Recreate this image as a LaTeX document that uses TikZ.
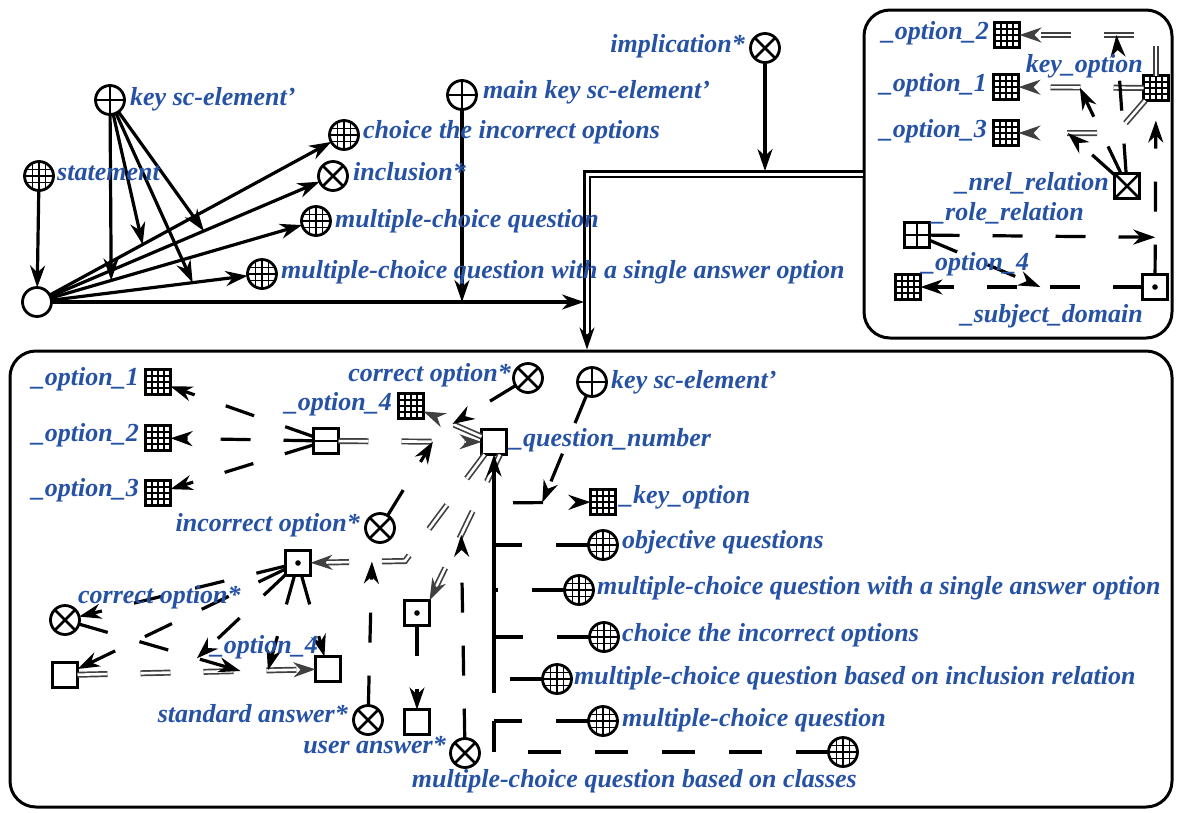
\documentclass[tikz,border=0pt]{standalone}
\usepackage{fontspec}
\setmainfont{Liberation Serif}
\usetikzlibrary{arrows.meta}
\definecolor{lblue}{RGB}{38,82,165}

\tikzset{
  base/.style={draw, line width=2.8pt, fill=white, inner sep=0pt, outer sep=0pt},
  circ/.style={base, circle, minimum size=29pt},
  sq/.style={base, rectangle, minimum size=25pt},
  % constant class: circle with a fine grid
  cgrid/.style={circ, path picture={
    \foreach \d in {-6.7,0,6.7}{
      \draw[black, line width=1.4pt] ([xshift=\d pt]path picture bounding box.north) -- ([xshift=\d pt]path picture bounding box.south);
      \draw[black, line width=1.4pt] ([yshift=\d pt]path picture bounding box.west) -- ([yshift=\d pt]path picture bounding box.east);}}},
  % constant role relation
  cplus/.style={circ, path picture={
    \draw[black, line width=2.8pt] (path picture bounding box.north) -- (path picture bounding box.south)
      (path picture bounding box.west) -- (path picture bounding box.east);}},
  % constant non-role relation
  ccross/.style={circ, path picture={
    \draw[black, line width=2.8pt] (path picture bounding box.south west) -- (path picture bounding box.north east)
      (path picture bounding box.north west) -- (path picture bounding box.south east);}},
  % variable class
  sgrid/.style={sq, path picture={
    \foreach \d in {-6.2,0,6.2}{
      \draw[black, line width=1.6pt] ([xshift=\d pt]path picture bounding box.north) -- ([xshift=\d pt]path picture bounding box.south);
      \draw[black, line width=1.6pt] ([yshift=\d pt]path picture bounding box.west) -- ([yshift=\d pt]path picture bounding box.east);}}},
  splus/.style={sq, path picture={
    \draw[black, line width=2.8pt] (path picture bounding box.north) -- (path picture bounding box.south)
      (path picture bounding box.west) -- (path picture bounding box.east);}},
  sx/.style={sq, path picture={
    \draw[black, line width=2.5pt] (path picture bounding box.south west) -- (path picture bounding box.north east)
      (path picture bounding box.north west) -- (path picture bounding box.south east);}},
  sdot/.style={sq, path picture={\fill[black] (path picture bounding box.center) circle (2.8pt);}},
  sbar/.style={sq, path picture={
    \draw[black, line width=2.8pt] (path picture bounding box.west) -- (path picture bounding box.east);}},
  contour/.style={draw, line width=3pt, rounded corners=26pt, inner sep=0pt},
  lbl/.style={text=lblue, inner sep=0pt, font=\fontsize{26}{28}\selectfont\bfseries\itshape},
  tipx/.tip={Stealth[length=22pt 0 0, width=15pt 0 0, inset=7pt 0 0]},
  arc/.style={line width=3.2pt, -tipx},
  darc/.style={arc, dash pattern=on 30pt off 33pt},
  dline/.style={line width=3.2pt, dash pattern=on 33pt off 34pt},
  pair/.style={draw, line width=2.1pt, double=white, double distance=3pt, -tipx},
  dpair/.style={draw=black!75, line width=1.7pt, double=white, double distance=2.6pt,
    dash pattern=on 30pt off 33pt, -tipx},
}

\begin{document}
\begin{tikzpicture}[x=1pt,y=-1pt]
\useasboundingbox (0,0) rectangle (1181,812);
\fill[white] (0,0) rectangle (1181,812);

% ---------- contours ----------
\node[contour, minimum width=308pt, minimum height=328pt] (trc) at (1018,174) {};
\node[contour, minimum width=1162pt, minimum height=456pt] (lc) at (591,579) {};

% ---------- upper left part ----------
\node[cgrid]  (stm)   at (39,176)  {};
\node[circ]   (o)     at (37,302)  {};
\node[cplus]  (key)   at (110,100) {};
\node[cgrid]  (choice) at (344,135) {};
\node[ccross] (incl1) at (333,176) {};
\node[cgrid]  (mcq1)  at (316,221) {};
\node[cgrid]  (mcqs1) at (262,274) {};
\node[cplus]  (mkey)  at (462,95)  {};
\node[ccross] (impl)  at (765,48)  {};

% ---------- upper right contour ----------
\node[sgrid] (opt2)   at (1007,35)  {};
\node[sgrid] (opt1)   at (1006,87)  {};
\node[sgrid] (opt3)   at (1006,133) {};
\node[sgrid] (keyopt) at (1156,88)  {};
\node[sx]    (nrel)   at (1127,186) {};
\node[splus] (role)   at (917,235)  {};
\node[sgrid] (opt4t)  at (908,287)  {};
\node[sdot]  (subj)   at (1155,287) {};

% ---------- lower contour ----------
\node[sgrid]  (lopt1) at (158,382) {};
\node[sgrid]  (lopt2) at (158,438) {};
\node[sgrid]  (lopt3) at (158,493) {};
\node[sbar]   (tup)   at (326,441) {};
\node[sgrid]  (lopt4) at (411,406) {};
\node[ccross] (corr1) at (528,378) {};
\node[cplus]  (lkey)  at (592,382) {};
\node[sq]     (qn)    at (494,442) {};
\node[sgrid]  (lkeyopt) at (603,502) {};
\node[cgrid]  (objq)  at (603,545) {};
\node[cgrid]  (lmcqs) at (579,590) {};
\node[cgrid]  (lchoice) at (604,637) {};
\node[cgrid]  (incl2) at (557,679) {};
\node[cgrid]  (lmcq)  at (603,721) {};
\node[cgrid]  (cls)   at (843,752) {};
\node[ccross] (incorr) at (380,528) {};
\node[sdot]   (sU)    at (298,563) {};
\node[sdot]   (sL)    at (417,613) {};
\node[sq]     (ua)    at (417,722) {};
\node[ccross] (std)   at (368,720) {};
\node[ccross] (user)  at (465,753) {};
\node[ccross] (corr2) at (65,620)  {};
\node[sq]     (sqL)   at (65,675)  {};
\node[sq]     (sqR)   at (328,669) {};

% ---------- connectors: upper left ----------
\draw[arc] (stm) -- (o);
\draw[arc] (o) -- coordinate[pos=0.33] (pA) (choice);
\draw[arc] (o) -- coordinate[pos=0.57] (pB) (incl1);
\draw[arc] (o) -- coordinate[pos=0.24] (pC) (mcq1);
\draw[arc] (o) -- coordinate[pos=0.72] (pD) (mcqs1);
\draw[arc] (key) -- (pA);
\draw[arc] (key) -- (pB);
\draw[arc] (key) -- (pC);
\draw[arc] (key) -- (pD);

\coordinate (bend) at (587,174);
\draw[pair] (trc.west) -- (bend) -- (bend |- lc.north);
\draw[arc, shorten >=3pt] (o) -- (o -| bend);
\draw[arc] (mkey) -- (mkey |- o);
\draw[arc, shorten >=3pt] (impl) -- (impl |- bend);

% ---------- connectors: upper right ----------
\coordinate (k1) at (keyopt |- opt2);
\draw[dpair] (keyopt) -- (k1) -- coordinate[pos=0.29] (q1) (opt2);
\draw[dpair] (keyopt) -- coordinate[pos=0.51] (q2) (opt1);
\coordinate (k3) at (1117,133);
\draw[dpair] (keyopt) -- (k3) -- coordinate[pos=0.5] (q3) (opt3);
\draw[darc] (nrel) -- (q1);
\draw[darc] (nrel) -- (q2);
\draw[darc] (nrel) -- (q3);
\draw[darc, shorten >=20pt] (subj) -- coordinate[pos=0.214] (q4) (keyopt);
\draw[darc] (role) -- (q4);
\draw[darc] (subj) -- coordinate[pos=0.46] (q6) (opt4t);
\draw[darc] (role) -- (q6);

% ---------- connectors: lower contour ----------
\draw[darc] (tup) -- (lopt1);
\draw[darc] (tup) -- (lopt2);
\draw[darc] (tup) -- (lopt3);
\draw[dpair] (tup) -- coordinate[pos=0.66] (r1) (qn);
\draw[darc] (incorr) -- (r1);
\draw[dpair] (qn) -- coordinate[pos=0.5] (r2) (lopt4);
\draw[darc] (corr1) -- (r2);
\coordinate (r3b) at (405,561);
\draw[dpair] (qn) -- (r3b) -- coordinate[pos=0.35] (r3) (sU);
\draw[darc] (std) -- (r3);
\draw[dpair] ([xshift=6pt]qn.south) -- coordinate[pos=0.55] (r4) (sL.north east);
\draw[darc] (user) -- (r4);
\draw[darc] (sL) -- (ua);

% bus of the question node
\coordinate (bb) at (494,693);
\draw[arc] (bb) -- (qn);
\draw[dline] (objq) -- (objq -| bb);
\draw[dline] (lmcqs) -- (lmcqs -| bb);
\draw[dline] (lchoice) -- (lchoice -| bb);
\draw[dline] (incl2) -- (incl2 -| bb);
\draw[dline] (lmcq) -- (lmcq -| bb);
\draw[dline] (cls) -- (cls -| bb) -- (bb |- lmcq);

\coordinate (ko) at (494,503);
\draw[darc, dash phase=44pt] (ko) -- coordinate[pos=0.5] (r5) (lkeyopt);
\draw[darc] (lkey) -- (r5);

% structure of the correct option
\draw[darc] (sU) -- (corr2);
\draw[darc] (sU) -- (sqL);
\draw[dpair] (sqL) -- coordinate[pos=0.685] (t1) coordinate[pos=0.8] (t2) (sqR);
\draw[darc] (corr2) -- coordinate[pos=0.73] (t3) (t1);
\draw[darc] (sU) -- (t3);
\draw[darc] (sU) -- (t2);
\draw[darc] (sU) -- (sqR);

% ---------- labels ----------
\node[lbl, anchor=base west] (lstm)   at (57,180)  {statement};
\node[lbl, anchor=base west] (lkeyt)  at (130,105) {key sc-element'};
\node[lbl, anchor=base west] (lch)    at (363,138) {choice the incorrect options};
\node[lbl, anchor=base west] (lin)    at (353,180) {inclusion*};
\node[lbl, anchor=base west] (lmq)    at (335,227) {multiple-choice question};
\node[lbl, anchor=base west] (lmqs)   at (281,278) {multiple-choice question with a single answer option};
\node[lbl, anchor=base west] (lmk)    at (483,98)  {main key sc-element'};
\node[lbl, anchor=base east] (limp)   at (745,52)  {implication*};

\node[lbl, anchor=base east] (lo2)  at (989,39)   {\_option\_2};
\node[lbl, anchor=base east] (lo1)  at (987,91)   {\_option\_1};
\node[lbl, anchor=base east] (lo3)  at (987,137)  {\_option\_3};
\node[lbl, anchor=base east] (lko)  at (1143,72)  {key\_option};
\node[lbl, anchor=base east] (lnr)  at (1109,190) {\_nrel\_relation};
\node[lbl, anchor=base west] (lrr)  at (932,220)  {\_role\_relation};
\node[lbl, anchor=base west] (lo4t) at (922,270)  {\_option\_4};
\node[lbl, anchor=base east] (lsd)  at (1143,322) {\_subject\_domain};

\node[lbl, anchor=base east] (llo1) at (139,385) {\_option\_1};
\node[lbl, anchor=base east] (llo2) at (139,441) {\_option\_2};
\node[lbl, anchor=base east] (llo3) at (139,496) {\_option\_3};
\node[lbl, anchor=base east] (linc) at (360,531) {incorrect option*};
\node[lbl, anchor=base east] (llo4) at (392,410) {\_option\_4};
\node[lbl, anchor=base east] (lc1)  at (511,381) {correct option*};
\node[lbl, anchor=base west] (llk)  at (611,388) {key sc-element'};
\node[lbl, anchor=base west] (lqn)  at (510,446) {\_question\_number};
\node[lbl, anchor=base west] (llko) at (620,503) {\_key\_option};
\node[lbl, anchor=base west] (lobj) at (622,548) {objective questions};
\node[lbl, anchor=base west] (llms) at (597,594) {multiple-choice question with a single answer option};
\node[lbl, anchor=base west] (llch) at (622,641) {choice the incorrect options};
\node[lbl, anchor=base west] (linr) at (574,684) {multiple-choice question based on inclusion relation};
\node[lbl, anchor=base west] (llmq) at (622,726) {multiple-choice question};
\node[lbl, anchor=base east] (lcls) at (857,787) {multiple-choice question based on classes};
\node[lbl, anchor=base east] (lstd) at (348,722) {standard answer*};
\node[lbl, anchor=base east] (lusr) at (446,753) {user answer*};
\node[lbl, anchor=base west] (lc2)  at (78,603)  {correct option*};
\node[lbl, anchor=base east] (lsqr) at (318,653) {\_option\_4};
\end{tikzpicture}
\end{document}
